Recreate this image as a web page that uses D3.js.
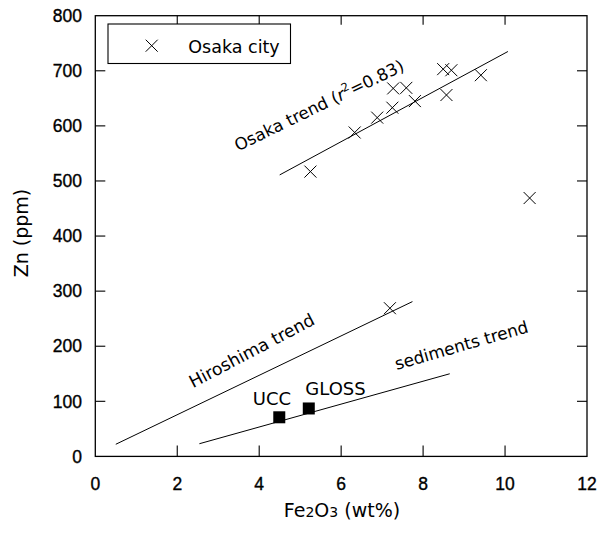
<!DOCTYPE html>
<html>
<head>
<meta charset="utf-8">
<script src="https://cdn.jsdelivr.net/npm/d3@7"></script>
<style>
  html, body { margin: 0; padding: 0; background: #fff; }
  svg { display: block; }
  text { font-family: "DejaVu Sans", sans-serif; fill: #000; }
  text.num { font-family: "Liberation Sans", Arial, sans-serif; }
</style>
</head>
<body>
<svg id="chart" width="600" height="533"></svg>
<script>
// Osaka city samples: Fe2O3 (wt%) vs Zn (ppm)
const osakaFe = [8.49, 8.69, 9.41, 7.27, 7.59, 8.57, 7.25, 7.80, 6.88, 6.33, 5.25, 10.60, 7.19];
const osakaZn = [703, 701, 692, 668, 669, 656, 633, 645, 615, 588, 517, 469, 269];

// Reference compositions
const refNames = ["UCC", "GLOSS"];
const refFe = [4.49, 5.21];
const refZn = [71, 87];

// Trend line end points [Fe2O3, Zn]
const osakaTrend = [[4.5, 511], [10.07, 735]];
const hiroshimaTrend = [[0.5, 22], [7.74, 281]];
const sedimentsTrend = [[2.54, 23], [8.65, 150]];

const xTicks = [0, 2, 4, 6, 8, 10, 12];
const yTicks = [0, 100, 200, 300, 400, 500, 600, 700, 800];

const svg = d3.select("#chart");
const plotL = 95.3, plotR = 587, plotT = 15.7, plotB = 456.4;

const x = d3.scaleLinear().domain([0, 12]).range([plotL, plotR]);
const y = d3.scaleLinear().domain([0, 800]).range([plotB, plotT]);

// inner tick marks on all four sides
const innerX = [2, 4, 6, 8, 10];
const innerY = [100, 200, 300, 400, 500, 600, 700];
const g = svg.append("g").attr("stroke", "#000").attr("stroke-width", 1.1);
innerX.forEach(v => {
  g.append("line").attr("x1", x(v)).attr("x2", x(v)).attr("y1", plotB).attr("y2", plotB - 11);
  g.append("line").attr("x1", x(v)).attr("x2", x(v)).attr("y1", plotT).attr("y2", plotT + 9);
});
innerY.forEach(v => {
  g.append("line").attr("y1", y(v)).attr("y2", y(v)).attr("x1", plotL).attr("x2", plotL + 10);
  g.append("line").attr("y1", y(v)).attr("y2", y(v)).attr("x1", plotR).attr("x2", plotR - 10);
});

// frame
svg.append("rect")
  .attr("x", plotL).attr("y", plotT)
  .attr("width", plotR - plotL).attr("height", plotB - plotT)
  .attr("fill", "none").attr("stroke", "#000").attr("stroke-width", 1.3);

// tick labels
svg.append("g").selectAll("text").data(xTicks).join("text")
  .attr("class", "num")
  .attr("x", d => x(d)).attr("y", 490)
  .attr("text-anchor", "middle")
  .attr("font-size", 17.5)
  .attr("stroke", "#000").attr("stroke-width", 0.35)
  .text(d => d);

svg.append("g").selectAll("text").data(yTicks).join("text")
  .attr("class", "num")
  .attr("x", 82).attr("y", d => y(d) + 6.2)
  .attr("text-anchor", "end")
  .attr("font-size", 17.5)
  .attr("stroke", "#000").attr("stroke-width", 0.35)
  .text(d => d);

// axis titles
svg.append("text")
  .attr("transform", "translate(28,233) rotate(-90)")
  .attr("text-anchor", "middle")
  .attr("font-size", 19)
  .text("Zn (ppm)");

const xt = svg.append("text")
  .attr("x", 342).attr("y", 517)
  .attr("text-anchor", "middle")
  .attr("font-size", 19);
xt.append("tspan").text("Fe");
xt.append("tspan").attr("font-size", 14).text("2");
xt.append("tspan").text("O");
xt.append("tspan").attr("font-size", 14).text("3");
xt.append("tspan").text(" (wt%)");

// trend lines
const line = d3.line().x(d => x(d[0])).y(d => y(d[1]));
[osakaTrend, hiroshimaTrend, sedimentsTrend].forEach(t => {
  svg.append("path").attr("d", line(t))
    .attr("fill", "none").attr("stroke", "#000").attr("stroke-width", 1);
});

// cross markers
const cross = (sel, cx, cy, r) => {
  sel.append("path")
    .attr("d", `M${cx - r},${cy - r}L${cx + r},${cy + r}M${cx - r},${cy + r}L${cx + r},${cy - r}`)
    .attr("stroke", "#000").attr("stroke-width", 1).attr("fill", "none");
};
const pts = svg.append("g");
osakaFe.forEach((fe, i) => cross(pts, x(fe), y(osakaZn[i]), 6));

// reference squares
svg.append("g").selectAll("rect").data(refFe).join("rect")
  .attr("x", d => x(d) - 6)
  .attr("y", (d, i) => y(refZn[i]) - 6)
  .attr("width", 12).attr("height", 12)
  .attr("fill", "#000");

svg.append("text").attr("x", 272).attr("y", 405)
  .attr("text-anchor", "middle").attr("font-size", 18).text(refNames[0]);
svg.append("text").attr("x", 335.5).attr("y", 395)
  .attr("text-anchor", "middle").attr("font-size", 18).text(refNames[1]);

// trend labels
const ol = svg.append("text")
  .attr("transform", "translate(238,151.5) rotate(-26)")
  .attr("font-size", 16.8);
ol.append("tspan").text("Osaka trend (");
ol.append("tspan").attr("font-style", "italic").text("r");
ol.append("tspan").attr("font-size", 11.5).attr("dy", -7).text("2");
ol.append("tspan").attr("dy", 7).text("=0.83)");

svg.append("text")
  .attr("transform", "translate(193,388.3) rotate(-27.7)")
  .attr("font-size", 17.3)
  .text("Hiroshima trend");

svg.append("text")
  .attr("transform", "translate(396.7,370) rotate(-16)")
  .attr("font-size", 16.9)
  .text("sediments trend");

// legend
svg.append("rect")
  .attr("x", 108).attr("y", 24).attr("width", 182.5).attr("height", 39.5)
  .attr("fill", "#fff").attr("stroke", "#000").attr("stroke-width", 1.1);
cross(svg, 151.7, 45.7, 6);
svg.append("text").attr("x", 188.3).attr("y", 52.5)
  .attr("font-size", 17.5).text("Osaka city");
</script>
</body>
</html>
